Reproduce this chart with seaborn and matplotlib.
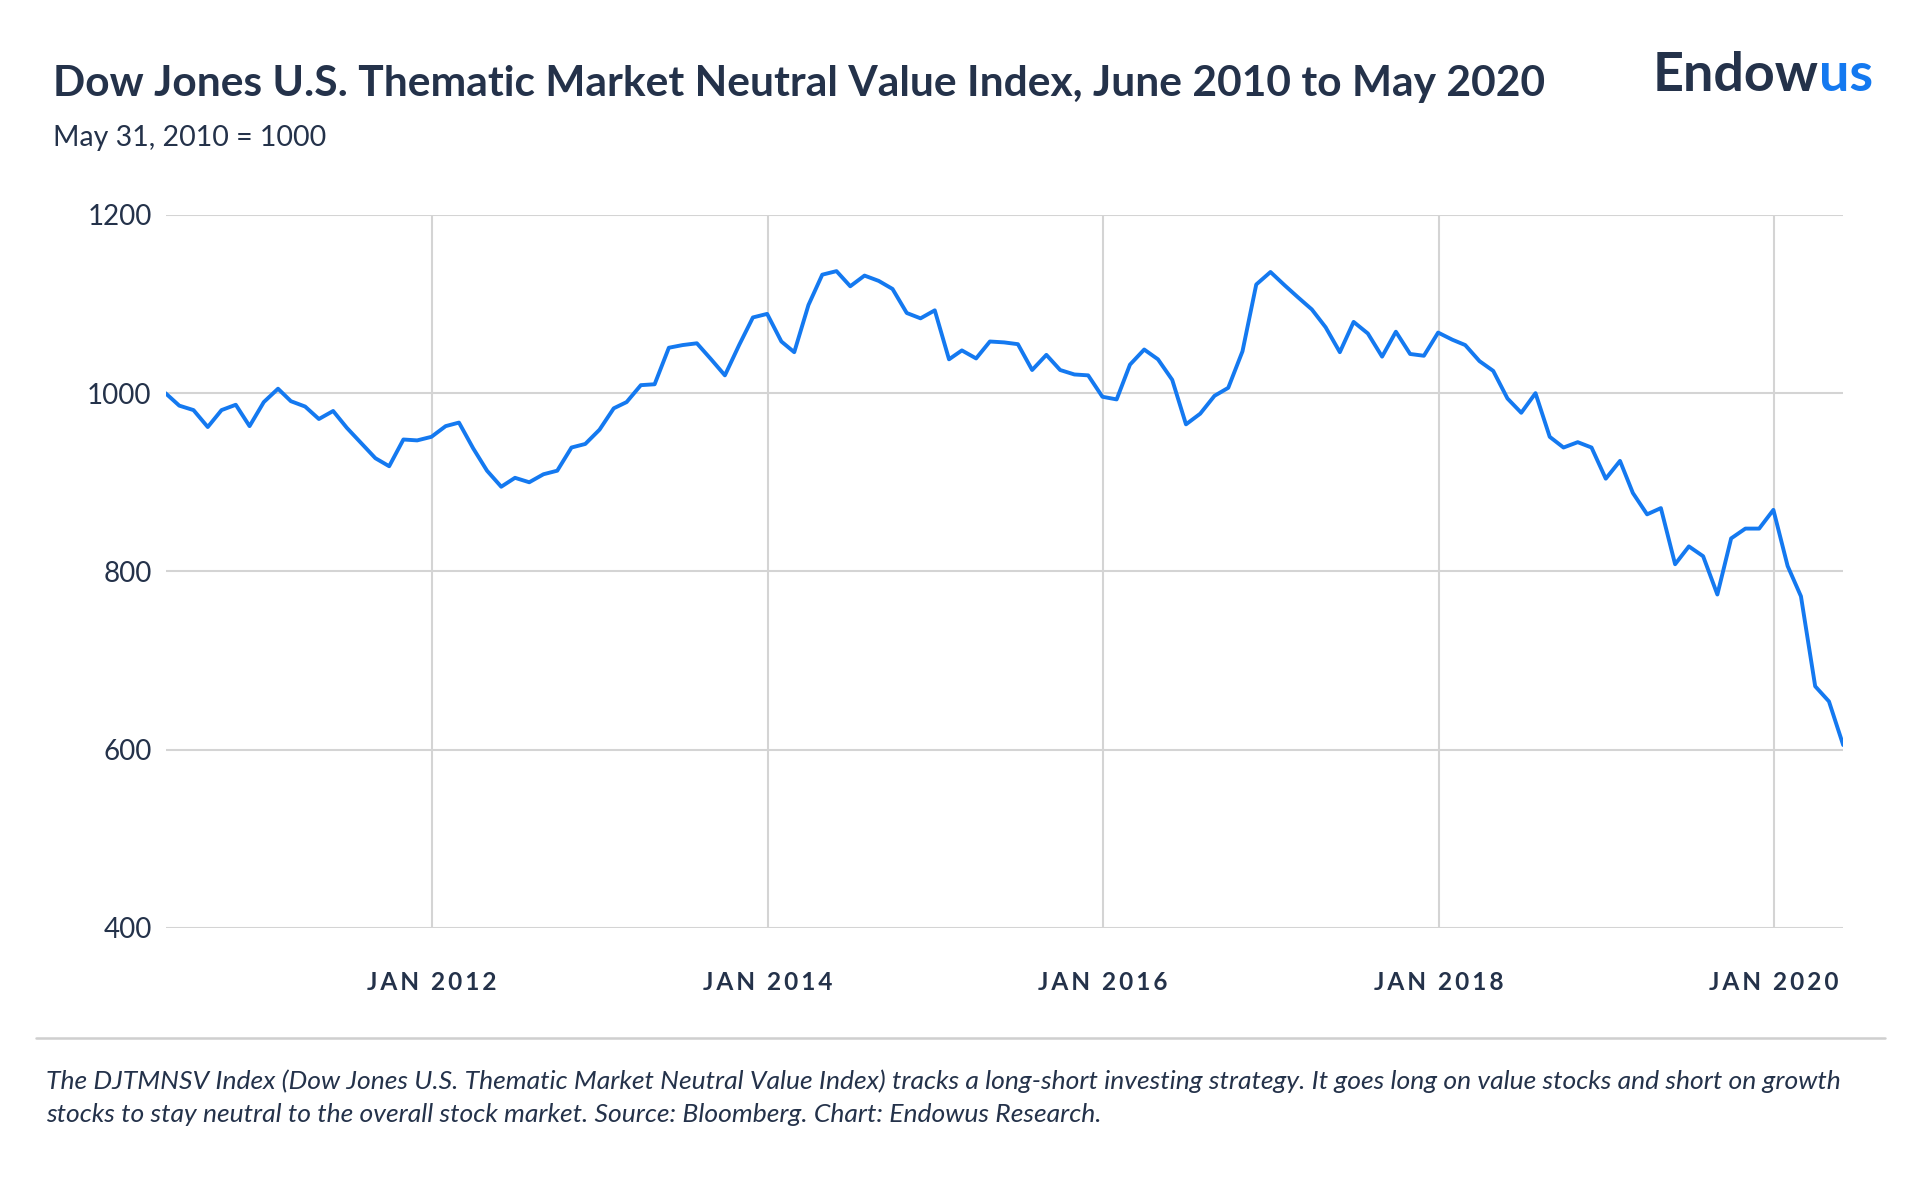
import pandas as pd
import seaborn as sns
import matplotlib.pyplot as plt
from matplotlib.lines import Line2D

# Monthly index level, month ends from May 31, 2010 to May 31, 2020
index_values = [
    1000, 986, 981, 962, 981, 987, 963, 990, 1005, 991,
    985, 971, 980, 961, 944, 927, 918, 948, 947, 951,
    963, 967, 938, 913, 895, 905, 900, 909, 913, 939,
    943, 959, 983, 990, 1009, 1010, 1051, 1054, 1056, 1038,
    1020, 1054, 1085, 1089, 1058, 1046, 1099, 1133, 1137, 1120,
    1132, 1126, 1117, 1090, 1084, 1093, 1038, 1048, 1039, 1058,
    1057, 1055, 1026, 1043, 1026, 1021, 1020, 996, 993, 1032,
    1049, 1038, 1015, 965, 977, 997, 1006, 1047, 1122, 1136,
    1121, 1108, 1094, 1074, 1046, 1080, 1067, 1041, 1069, 1044,
    1042, 1068, 1060, 1054, 1036, 1025, 994, 978, 1000, 951,
    939, 945, 939, 904, 924, 888, 864, 871, 808, 828,
    817, 774, 837, 848, 848, 869, 806, 772, 671, 654,
    605,
]
tick_dates = ['2012-01-01', '2014-01-01', '2016-01-01', '2018-01-01', '2020-01-01']
tick_labels = ['JAN 2012', 'JAN 2014', 'JAN 2016', 'JAN 2018', 'JAN 2020']
y_ticks = [400, 600, 800, 1000, 1200]

navy = '#24324a'
blue = '#1479f0'
grid_grey = '#d4d4d4'

dates = pd.date_range('2010-05-31', periods=len(index_values), freq='ME')
df = pd.DataFrame({'date': dates, 'value': index_values})

sns.set_theme(style='whitegrid')
plt.rcParams['font.family'] = ['Lato', 'DejaVu Sans']

fig = plt.figure(figsize=(19.2, 11.8), dpi=100)
ax = fig.add_axes([0.0862, 0.2138, 0.8738, 0.6040])

sns.lineplot(data=df, x='date', y='value', ax=ax, color=blue, linewidth=2.8)

# letter-spaced month labels (hair spaces between characters)
spaced = ['\u200a\u200a'.join(lab) for lab in tick_labels]

ax.set_xlim(dates[0], dates[-1])
ax.set_ylim(400, 1200)
ax.set_xticks(pd.to_datetime(tick_dates))
ax.set_xticklabels(spaced, fontsize=17.6, fontweight='bold', color=navy)
ax.set_yticks(y_ticks)
ax.set_yticklabels([str(v) for v in y_ticks], fontsize=20, color=navy)
ax.tick_params(axis='x', length=0, pad=31)
ax.tick_params(axis='y', length=0, pad=10)
ax.set_xlabel('')
ax.set_ylabel('')
ax.grid(True, color=grid_grey, linewidth=1.5)
for sp in ax.spines.values():
    sp.set_visible(False)

# title block
fig.text(0.0274, 0.919, 'Dow Jones U.S. Thematic Market Neutral Value Index, June 2010 to May 2020',
         fontsize=30.6, fontweight='bold', color=navy, va='baseline', ha='left')
fig.text(0.0274, 0.8765, 'May 31, 2010 = 1000', fontsize=20.5, color=navy, va='baseline', ha='left')

# logo
endow = fig.text(0.861, 0.923, 'Endow', fontsize=38.8, fontweight='bold', color=navy,
                 va='baseline', ha='left')
renderer = fig.canvas.get_renderer()
bb = endow.get_window_extent(renderer=renderer)
fig.text(bb.x1 / fig.bbox.width, 0.923, 'us', fontsize=38.8, fontweight='bold', color=blue,
         va='baseline', ha='left')

# separator and footnote
fig.add_artist(Line2D([0.019, 0.982], [0.1203, 0.1203], transform=fig.transFigure,
                      color='#cfcfcf', linewidth=1.8))
fig.text(0.0242, 0.0771, 'The DJTMNSV Index (Dow Jones U.S. Thematic Market Neutral Value Index) tracks a '
         'long-short investing strategy. It goes long on value stocks and short on growth',
         fontsize=19.05, style='italic', color=navy, va='baseline', ha='left')
fig.text(0.0242, 0.0495, 'stocks to stay neutral to the overall stock market. Source: Bloomberg. '
         'Chart: Endowus Research.',
         fontsize=19.05, style='italic', color=navy, va='baseline', ha='left')

fig.savefig('out.png', dpi=100)
